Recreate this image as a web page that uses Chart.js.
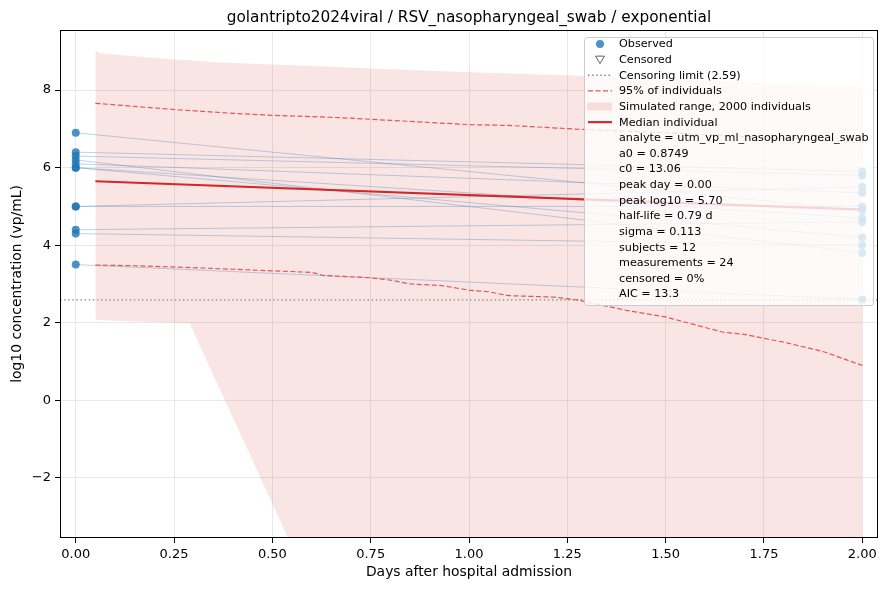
<!DOCTYPE html>
<html><head><meta charset="utf-8">
<script src="https://cdn.jsdelivr.net/npm/chart.js@4.4.1/dist/chart.umd.min.js"></script>
<style>html,body{margin:0;padding:0;background:#fff}#wrap{width:888px;height:590px}</style>
</head><body><div id="wrap"><canvas id="c" width="888" height="590"></canvas></div>
<script>
const titleText = 'golantripto2024viral / RSV_nasopharyngeal_swab / exponential';
const xLabel = 'Days after hospital admission';
const yLabel = 'log10 concentration (vp/mL)';
const xAxisMin = -0.04, xAxisMax = 2.04;
const yAxisMin = -3.55, yAxisMax = 9.55;
const xTicks = [0, 0.25, 0.5, 0.75, 1.0, 1.25, 1.5, 1.75, 2.0];
const xTickLabels = ['0.00','0.25','0.50','0.75','1.00','1.25','1.50','1.75','2.00'];
const yTicks = [-2, 0, 2, 4, 6, 8];
const yTickLabels = ['\u22122','0','2','4','6','8'];

// observed: one value per subject at day 0 and day 2
const obsDays = [0, 2];
const day0Values = [6.9, 6.4, 6.3, 6.2, 6.1, 6.0, 6.0, 5.0, 5.0, 4.4, 4.3, 3.5];
const day2Values = [4.9, 5.9, 5.8, 3.8, 5.35, 4.7, 4.2, 5.5, 5.0, 4.6, 4.0, 2.6];
const censorLimit = 2.59;

// simulated range (2000 individuals)
const simX     = [0.05, 0.06, 0.08, 0.25, 0.29, 0.35, 0.5, 0.6, 0.75, 1.0, 1.25, 1.5, 1.75, 2.0];
const simUpper = [9.02, 8.96, 8.93, 8.79, 8.77, 8.72, 8.66, 8.62, 8.56, 8.46, 8.38, 8.28, 8.18, 8.08];
const simLower = [2.08, 2.07, 2.06, 2.0, 1.98, 0.65, -2.66, -4.9, -6.0, -7.5, -8.5, -9.5, -10.5, -11.5];

// 95% of individuals
const p95UpX = [0.05, 0.1, 0.25, 0.4, 0.5, 0.67, 0.8, 1.0, 1.1, 1.28, 1.5, 1.75, 2.0];
const p95UpY = [7.66, 7.62, 7.5, 7.4, 7.35, 7.29, 7.22, 7.11, 7.09, 6.99, 6.9, 6.78, 6.65];
const p95LoX = [0.05, 0.15, 0.25, 0.4, 0.5, 0.6, 0.63, 0.75, 0.8, 0.85, 0.93, 1.0, 1.05, 1.1, 1.22, 1.28, 1.4, 1.5, 1.6, 1.65, 1.7, 1.8, 1.9, 2.0];
const p95LoY = [3.49, 3.47, 3.44, 3.38, 3.34, 3.3, 3.22, 3.16, 3.1, 3.0, 2.96, 2.84, 2.8, 2.7, 2.66, 2.58, 2.32, 2.15, 1.88, 1.75, 1.7, 1.5, 1.26, 0.9];

// median individual
const medianX = [0.05, 2.0];
const medianY = [5.65, 4.92];

const legendEntries = ['Observed','Censored','Censoring limit (2.59)','95% of individuals','Simulated range, 2000 individuals','Median individual'];
const statLines = ['analyte = utm_vp_ml_nasopharyngeal_swab','a0 = 0.8749','c0 = 13.06','peak day = 0.00','peak log10 = 5.70','half-life = 0.79 d','sigma = 0.113','subjects = 12','measurements = 24','censored = 0%','AIC = 13.3'];

const FONT = '"DejaVu Sans", sans-serif';
const BLUE = 'rgba(31,119,180,0.8)';
const RED = '#d62728';
const RED_DASH = 'rgba(226,60,60,0.85)';
const PINK = 'rgba(222,70,70,0.14)';

const xy = (xs, ys) => xs.map((x, i) => ({x, y: ys[i]}));

const datasets = [];
datasets.push({label:'simU', data: xy(simX, simUpper), showLine:true, borderWidth:0, pointRadius:0, fill:'+1', backgroundColor: PINK, borderColor:'rgba(0,0,0,0)', order: 20});
datasets.push({label:'simL', data: xy(simX, simLower), showLine:true, borderWidth:0, pointRadius:0, fill:false, borderColor:'rgba(0,0,0,0)', order: 19});
datasets.push({label:'cens', data: [{x:xAxisMin, y:censorLimit},{x:xAxisMax, y:censorLimit}], showLine:true, borderColor:'#888888', borderWidth:1.3, borderDash:[1.5,2.6], pointRadius:0, order: 18});
day0Values.forEach((v, i) => {
  datasets.push({label:'subj'+i, data: xy(obsDays, [v, day2Values[i]]), showLine:true, borderColor:'rgba(70,130,180,0.35)', borderWidth:1, pointRadius:0, order: 15});
});
datasets.push({label:'p95u', data: xy(p95UpX, p95UpY), showLine:true, borderColor:RED_DASH, borderWidth:1.2, borderDash:[5,2.5], pointRadius:0, order: 10});
datasets.push({label:'p95l', data: xy(p95LoX, p95LoY), showLine:true, borderColor:RED_DASH, borderWidth:1.2, borderDash:[5,2.5], pointRadius:0, order: 10});
datasets.push({label:'median', data: xy(medianX, medianY), showLine:true, borderColor:RED, borderWidth:2.2, pointRadius:0, order: 5});
const obsPts = [];
day0Values.forEach((v, i) => { obsPts.push({x: obsDays[0], y: v}); obsPts.push({x: obsDays[1], y: day2Values[i]}); });
datasets.push({label:'obs', data: obsPts, showLine:false, pointRadius:4, pointHoverRadius:4, pointBackgroundColor: BLUE, pointBorderColor: BLUE, pointBorderWidth:0, order: 1});

const decor = {
  id: 'decor',
  afterDraw(chart) {
    const ctx = chart.ctx, a = chart.chartArea;
    ctx.save();
    // frame
    ctx.strokeStyle = '#000'; ctx.lineWidth = 1;
    ctx.strokeRect(Math.round(a.left) + 0.5, Math.round(a.top) + 0.5, Math.round(a.right - a.left) - 1, Math.round(a.bottom - a.top) - 1);
    // title
    ctx.fillStyle = '#000';
    ctx.font = '15.3px ' + FONT;
    ctx.textAlign = 'center'; ctx.textBaseline = 'alphabetic';
    ctx.fillText(titleText, (a.left + a.right) / 2, 22);
    // axis labels
    ctx.font = '13.9px ' + FONT;
    ctx.textBaseline = 'middle';
    ctx.fillText(xLabel, (a.left + a.right) / 2, 572);
    ctx.save();
    ctx.translate(17, (a.top + a.bottom) / 2);
    ctx.rotate(-Math.PI / 2);
    ctx.fillText(yLabel, 0, 0);
    ctx.restore();

    // legend box
    const bx = 584.5, by = 37.5, bw = 289, bh = 268, r = 3;
    ctx.beginPath();
    ctx.moveTo(bx + r, by); ctx.lineTo(bx + bw - r, by); ctx.quadraticCurveTo(bx + bw, by, bx + bw, by + r);
    ctx.lineTo(bx + bw, by + bh - r); ctx.quadraticCurveTo(bx + bw, by + bh, bx + bw - r, by + bh);
    ctx.lineTo(bx + r, by + bh); ctx.quadraticCurveTo(bx, by + bh, bx, by + bh - r);
    ctx.lineTo(bx, by + r); ctx.quadraticCurveTo(bx, by, bx + r, by);
    ctx.closePath();
    ctx.fillStyle = 'rgba(255,255,255,0.8)'; ctx.fill();
    ctx.strokeStyle = '#cccccc'; ctx.lineWidth = 1; ctx.stroke();

    const rowY = i => 44 + i * 15.63;
    const hx0 = 588, hx1 = 612, hc = 600, tx = 619;
    // Observed
    ctx.fillStyle = BLUE;
    ctx.beginPath(); ctx.arc(hc, rowY(0), 4, 0, Math.PI * 2); ctx.fill();
    // Censored
    ctx.strokeStyle = '#666'; ctx.lineWidth = 1;
    ctx.beginPath(); const ty = rowY(1);
    ctx.moveTo(hc - 4.5, ty - 3.5); ctx.lineTo(hc + 4.5, ty - 3.5); ctx.lineTo(hc, ty + 4); ctx.closePath(); ctx.stroke();
    // Censoring limit
    ctx.strokeStyle = '#888'; ctx.lineWidth = 1.3; ctx.setLineDash([1.5, 2.6]);
    ctx.beginPath(); ctx.moveTo(hx0, rowY(2)); ctx.lineTo(hx1, rowY(2)); ctx.stroke();
    // 95%
    ctx.strokeStyle = RED_DASH; ctx.lineWidth = 1.2; ctx.setLineDash([5, 2.5]);
    ctx.beginPath(); ctx.moveTo(hx0, rowY(3)); ctx.lineTo(hx1, rowY(3)); ctx.stroke();
    ctx.setLineDash([]);
    // Sim range patch
    ctx.fillStyle = 'rgba(222,70,70,0.16)';
    ctx.fillRect(hx0 - 1, rowY(4) - 4, hx1 - hx0 + 1, 8);
    // Median
    ctx.strokeStyle = RED; ctx.lineWidth = 2.2;
    ctx.beginPath(); ctx.moveTo(hx0, rowY(5)); ctx.lineTo(hx1, rowY(5)); ctx.stroke();

    ctx.fillStyle = '#000';
    ctx.font = '11.2px ' + FONT;
    ctx.textAlign = 'left'; ctx.textBaseline = 'middle';
    legendEntries.forEach((t, i) => ctx.fillText(t, tx, rowY(i) + 0.5));
    statLines.forEach((t, i) => ctx.fillText(t, tx, rowY(i + 6) + 0.5));
    ctx.restore();
  }
};

new Chart(document.getElementById('c'), {
  type: 'scatter',
  data: { datasets },
  options: {
    responsive: false,
    animation: false,
    devicePixelRatio: 1,
    layout: { padding: { top: 30, right: 10, left: 0, bottom: 0 } },
    plugins: { legend: { display: false }, tooltip: { enabled: false }, title: { display: false } },
    scales: {
      x: {
        type: 'linear', min: xAxisMin, max: xAxisMax,
        afterBuildTicks: s => { s.ticks = xTicks.map(v => ({value: v})); },
        afterFit: s => { s.height = 52; },
        ticks: { callback: v => xTickLabels[xTicks.indexOf(v)], color: '#000', font: { family: 'DejaVu Sans', size: 13 }, padding: 4, maxRotation: 0, autoSkip: false },
        grid: { color: '#e2e2e2', lineWidth: 0.8, drawTicks: true, tickLength: 5, tickColor: '#000', tickWidth: 1 },
        border: { display: false }
      },
      y: {
        type: 'linear', min: yAxisMin, max: yAxisMax,
        afterBuildTicks: s => { s.ticks = yTicks.map(v => ({value: v})); },
        afterFit: s => { s.width = 60; },
        ticks: { callback: v => yTickLabels[yTicks.indexOf(v)], color: '#000', font: { family: 'DejaVu Sans', size: 13 }, padding: 4, autoSkip: false },
        grid: { color: '#e2e2e2', lineWidth: 0.8, drawTicks: true, tickLength: 5, tickColor: '#000', tickWidth: 1 },
        border: { display: false }
      }
    }
  },
  plugins: [decor]
});
</script></body></html>
